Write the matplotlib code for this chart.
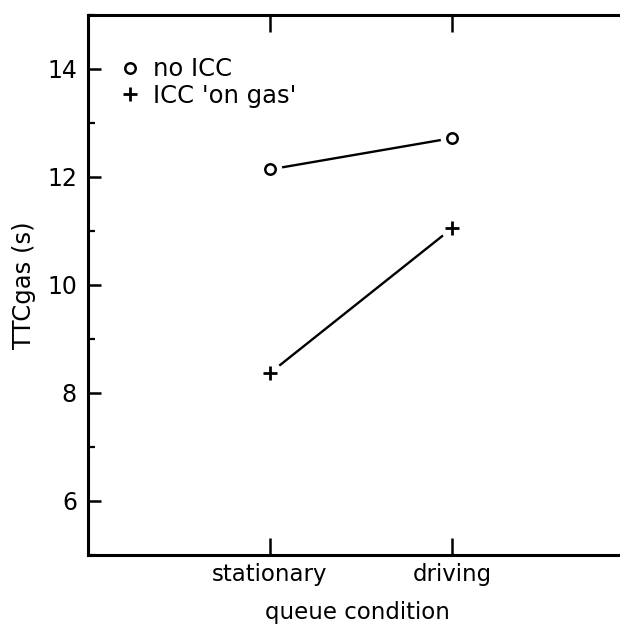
import matplotlib
matplotlib.use("Agg")
import matplotlib.pyplot as plt
from matplotlib.lines import Line2D
from matplotlib.ticker import MultipleLocator

plt.rcParams["font.family"] = ["DejaVu Sans"]

# data
conditions = ["stationary", "driving"]
x_pos = [1, 2]
no_icc = [12.14, 12.72]
icc_on_gas = [8.37, 11.05]

fig = plt.figure(figsize=(6.2, 6.24), dpi=100)
# right spine sits just outside the picture in the original scan
ax = fig.add_axes([88 / 620, 69 / 624, 546 / 620, 540 / 624])

# lines first, then a white pad under each marker so lines stop short of them
ax.plot(x_pos, no_icc, color="black", lw=1.7, zorder=2)
ax.plot(x_pos, icc_on_gas, color="black", lw=1.7, zorder=2)
ax.plot(x_pos, no_icc, ls="none", marker="o", ms=17, mfc="white", mec="none", zorder=3)
ax.plot(x_pos, icc_on_gas, ls="none", marker="o", ms=17, mfc="white", mec="none", zorder=3)
ax.plot(x_pos, no_icc, ls="none", marker="o", ms=7.5, mfc="white", mec="black", mew=1.8, zorder=4)
ax.plot(x_pos, icc_on_gas, ls="none", marker="+", ms=10, mec="black", mew=2.0, zorder=4)

ax.set_xlim(0, 3)
ax.set_ylim(5, 15)
ax.set_xticks(x_pos)
ax.set_xticklabels(conditions)
ax.set_yticks([6, 8, 10, 12, 14])
ax.yaxis.set_minor_locator(MultipleLocator(1))

ax.tick_params(axis="y", which="major", direction="in", length=9, width=1.8,
               right=True, labelsize=17, pad=8)
ax.tick_params(axis="y", which="minor", direction="in", length=5, width=1.6, right=True)
ax.tick_params(axis="x", which="major", direction="in", length=12, width=1.8,
               top=True, labelsize=16.5, pad=6)
for s in ax.spines.values():
    s.set_linewidth(2.2)

ax.set_xlabel("queue condition", fontsize=16.5)
ax.xaxis.set_label_coords(0.493, -0.085)
ax.set_ylabel("TTCgas (s)", fontsize=17.5)
ax.yaxis.set_label_coords(-0.095, 0.5)

handles = [
    Line2D([], [], ls="none", marker="o", ms=7.5, mfc="white", mec="black", mew=1.8),
    Line2D([], [], ls="none", marker="+", ms=10, mec="black", mew=2.0),
]
ax.legend(handles, ["no ICC", "ICC 'on gas'"], loc="upper left", frameon=False,
          fontsize=17.5, handlelength=0.6, handletextpad=0.65, labelspacing=0.1,
          bbox_to_anchor=(0.046, 0.94), borderaxespad=0)

fig.savefig("out.png", dpi=100)
